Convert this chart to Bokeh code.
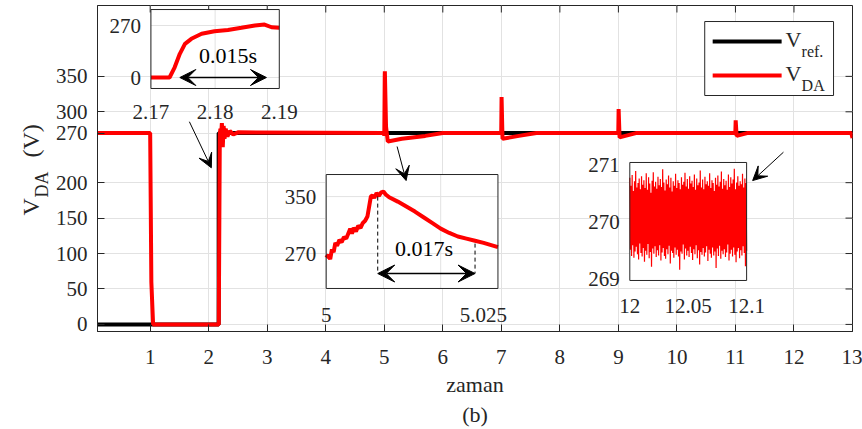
import math
from bokeh.plotting import figure
from bokeh.layouts import row
from bokeh.models import Range1d, FixedTicker, Arrow, VeeHead, Title
from bokeh.core.properties import value
from bokeh.embed import file_html
from bokeh.resources import INLINE

FONT = "Liberation Serif"
AX = "#262626"
GRID = "#e2e2e2"
RED = "#ff0000"

# ---- main traces -------------------------------------------------------
t_ref = [0.1, 2.17, 2.17, 13.0]
v_ref = [0, 0, 270, 270]

t_da = [0.1, 1.0, 1.02, 1.05, 2.17, 2.172, 2.19, 2.2, 2.21, 2.225, 2.24, 2.255,
        2.27, 2.29, 2.32, 2.36, 2.42, 2.5, 4.999, 5.0, 5.008, 5.01, 5.03, 5.06,
        5.3, 5.7, 6.0, 6.998, 7.004, 7.02, 7.3, 7.6, 8.998, 9.004, 9.02, 9.3,
        10.998, 11.004, 11.02, 11.2, 12.98, 13.0]
v_da = [270, 270, 60, 0, 0, 0, 268, 276, 262, 284, 250, 280,
        262, 276, 265, 273, 268, 271, 270, 266, 352, 357, 279, 258,
        262, 266, 270, 270, 321, 262, 266, 270, 270, 304, 264, 270,
        270, 288, 266, 270, 270, 263]

x_ticks = list(range(1, 14))
y_ticks = [0, 50, 100, 150, 200, 270, 300, 350]
X_RANGE = (0.1, 13.0)
Y_RANGE = (-10.0, 450.0)

# ---- zoom 1: start-up transient -----------------------------------------
z1_t = [2.1700, 2.1729, 2.1737, 2.1745, 2.1753, 2.1763, 2.1779, 2.1799, 2.1820,
        2.1841, 2.1862, 2.1877, 2.1888, 2.1900]
z1_v = [0, 0, 53, 123, 175, 201, 227, 240, 247, 258, 270, 275, 261, 258]
z1_xticks = [2.17, 2.18, 2.19]
z1_xlabels = ["2.17", "2.18", "2.19"]
z1_yticks = [0, 270]
z1_ylabels = ["0", "270"]

# ---- zoom 2: load step at t = 5 s ---------------------------------------
z2_t = [5.0000, 5.0004, 5.0007, 5.0010, 5.0013, 5.0016, 5.0019, 5.0023, 5.0027,
        5.0031, 5.0035, 5.0039, 5.0042, 5.0045, 5.0048, 5.0052, 5.0056, 5.0060,
        5.0064, 5.0068, 5.0072, 5.0075, 5.0078, 5.0081, 5.0084, 5.0088, 5.0092,
        5.0096, 5.0100, 5.0104, 5.0110, 5.0125, 5.0140, 5.0155, 5.0170, 5.0185,
        5.0200, 5.0215, 5.0230, 5.0245, 5.0260, 5.0275, 5.0300]
z2_v = [264, 268, 262, 276, 272, 285, 281, 289, 286,
        293, 291, 299, 305, 298, 306, 301, 309, 306,
        313, 316, 322, 336, 350, 352, 348, 355, 351,
        356, 357, 353, 349, 343, 336, 329, 321, 313,
        305, 299, 294, 291, 288, 285, 279]
z2_xticks = [5.0, 5.025]
z2_xlabels = ["5", "5.025"]
z2_yticks = [270, 350]
z2_ylabels = ["270", "350"]
z2_gridx = [5.01, 5.02]
z2_peak_t, z2_peak_v = 5.009, 350
z2_end_t, z2_end_v = 5.026, 284

# ---- zoom 3: steady-state ripple ----------------------------------------
z3_v = [
    270.78, 269.52, 270.64, 269.41, 270.83, 269.60, 270.55, 269.38, 270.72, 269.49,
    270.90, 269.57, 270.61, 269.44, 270.69, 269.35, 270.77, 269.63, 270.58, 269.46,
    270.81, 269.40, 270.66, 269.55, 270.74, 269.31, 270.60, 269.50, 270.86, 269.43,
    270.57, 269.62, 270.79, 269.37, 270.68, 269.48, 270.52, 269.22, 270.73, 269.54,
    270.88, 269.45, 270.63, 269.58, 270.71, 269.39, 270.59, 269.51, 270.80, 269.42,
    270.65, 269.60, 270.76, 269.33, 270.62, 269.47, 270.93, 269.55, 270.70, 269.41,
    270.56, 269.36, 270.75, 269.53, 270.67, 269.44, 270.82, 269.59, 270.61, 269.28,
    270.78, 269.50, 270.54, 269.46, 270.72, 269.38, 270.64, 269.56, 270.85, 269.43,
    270.60, 269.52, 270.74, 269.40, 270.69, 269.17, 270.58, 269.49, 270.79, 269.45,
    270.66, 269.61, 270.71, 269.35, 270.87, 269.54, 270.63, 269.42, 270.76, 269.50,
    270.59, 269.39, 270.81, 269.57, 270.68, 269.46, 270.73, 269.34, 270.62, 269.53,
    270.84, 269.44, 270.57, 269.60, 270.77, 269.37, 270.65, 269.51, 270.70, 269.26,
    270.91, 269.48, 270.61, 269.43, 270.75, 269.55, 270.58, 269.40, 270.80, 269.47,
    270.67, 269.58, 270.72, 269.32, 270.64, 269.52, 270.86, 269.45, 270.60, 269.38,
    270.74, 269.56, 270.69, 269.42, 270.55, 269.49, 270.78, 269.20, 270.66, 269.54,
    270.82, 269.41, 270.63, 269.59, 270.71, 269.36, 270.89, 269.50, 270.59, 269.44,
    270.76, 269.53, 270.65, 269.39, 270.73, 269.47, 270.57, 269.61, 270.84, 269.33,
    270.62, 269.45, 270.79, 269.52, 270.68, 269.40, 270.75, 269.56, 270.94, 269.43,
    270.58, 269.30, 270.70, 269.49, 270.81, 269.55, 270.64, 269.37, 270.72, 269.51,
    270.67, 269.42, 270.85, 269.58, 270.61, 269.46, 270.77, 269.23, 270.69, 269.50,
]
z3_t0, z3_t1 = 12.0, 12.1
z3_t = [z3_t0 + i * (z3_t1 - z3_t0) / (len(z3_v) - 1) for i in range(len(z3_v))]
z3_xticks = [12.0, 12.05, 12.1]
z3_xlabels = ["12", "12.05", "12.1"]
z3_yticks = [269, 270, 271]
z3_ylabels = ["269", "270", "271"]

legend_labels = [("V", "ref."), ("V", "DA")]

# ---- page geometry --------------------------------------------------------
W, H = 862, 429
LW = 52                       # strip on the left that carries the y title
ML, MR, MT, MB = 44, 10, 5, 98
FW, FH = W - LW - ML - MR, H - MT - MB

y_range = Range1d(*Y_RANGE)

# ---- y title strip: "V_DA (V)" written bottom-to-top, same vertical scale --
lab = figure(width=LW, height=H, x_range=Range1d(0, LW), y_range=y_range,
             output_backend="svg", toolbar_location=None, min_border_left=0,
             min_border_right=0, min_border_top=MT, min_border_bottom=MB,
             x_axis_location=None, y_axis_location=None)
lab.outline_line_color = None
lab.background_fill_color = "white"
lab.border_fill_color = "white"
lab.xgrid.visible = False
lab.ygrid.visible = False
for txt, bx, by, fs in (("V", 30, 153.7, "24px"), ("DA", 41, 179.1, "18px"),
                        ("(V)", 30, 235.5, "24px")):
    lab.text(x=[bx], y=[by], text=[txt], angle=math.pi / 2, text_font=value(FONT),
             text_font_size=fs, text_color=AX, text_align="left",
             text_baseline="alphabetic")

# ---- main figure ----------------------------------------------------------
p = figure(width=W - LW, height=H, x_range=Range1d(*X_RANGE),
           y_range=y_range, output_backend="svg", toolbar_location=None,
           min_border_left=ML, min_border_right=MR, min_border_top=MT,
           min_border_bottom=MB)
p.background_fill_color = "white"
p.border_fill_color = "white"
p.outline_line_color = AX
p.outline_line_width = 1

p.xaxis.ticker = FixedTicker(ticks=x_ticks)
p.yaxis.ticker = FixedTicker(ticks=y_ticks)
for ax in (p.xaxis[0], p.yaxis[0]):
    ax.axis_line_color = AX
    ax.major_tick_line_color = AX
    ax.major_tick_in = 7
    ax.major_tick_out = 0
    ax.minor_tick_line_color = None
    ax.major_label_text_font = FONT
    ax.major_label_text_font_size = "21px"
    ax.major_label_text_color = AX
p.xaxis.major_label_standoff = 18
p.yaxis.major_label_standoff = 10
p.xaxis.axis_label = "zaman"
p.xaxis.axis_label_text_font = FONT
p.xaxis.axis_label_text_font_size = "22px"
p.xaxis.axis_label_text_font_style = "normal"
p.xaxis.axis_label_text_color = AX
p.xaxis.axis_label_standoff = 5
p.add_layout(Title(text="(b)", align="center", vertical_align="middle",
                   text_font=FONT, text_font_size="22px", text_font_style="normal",
                   text_color=AX, standoff=2), "below")

p.xgrid.ticker = FixedTicker(ticks=x_ticks)
p.ygrid.ticker = FixedTicker(ticks=y_ticks)
p.grid.grid_line_color = GRID
p.grid.grid_line_width = 1

# inward ticks mirrored on the top and right edges of the box
tick_dy = 7 * (Y_RANGE[1] - Y_RANGE[0]) / FH
tick_dx = 7 * (X_RANGE[1] - X_RANGE[0]) / FW
p.segment(x0=x_ticks, x1=x_ticks, y0=[Y_RANGE[1]] * len(x_ticks),
          y1=[Y_RANGE[1] - tick_dy] * len(x_ticks), line_color=AX, line_width=1)
p.segment(x0=[X_RANGE[1]] * len(y_ticks), x1=[X_RANGE[1] - tick_dx] * len(y_ticks),
          y0=y_ticks, y1=y_ticks, line_color=AX, line_width=1)

ref_r = p.line(t_ref, v_ref, color="black", line_width=4)
da_r = p.line(t_da, v_da, color=RED, line_width=4)


def tlabel(sub, x, y, text, size="21px", **kw):
    sub.text(x=x, y=y, text=text, text_font=value(FONT), text_font_size=size,
             text_color=AX, **kw)


def inset(xs, ys, xt, yt, t, v, xticks, xlabels, yticks, ylabels,
          gridx=(), gridy=(), lw=4, dy=16):
    sub = p.subplot(x_source=Range1d(*xs), y_source=Range1d(*ys),
                    x_target=Range1d(*xt), y_target=Range1d(*yt))
    sub.quad(left=xs[0], right=xs[1], bottom=ys[0], top=ys[1],
             fill_color="white", line_color=None)
    if gridx:
        sub.segment(x0=list(gridx), x1=list(gridx), y0=[ys[0]] * len(gridx),
                    y1=[ys[1]] * len(gridx), line_color=GRID, line_width=1)
    if gridy:
        sub.segment(x0=[xs[0]] * len(gridy), x1=[xs[1]] * len(gridy), y0=list(gridy),
                    y1=list(gridy), line_color=GRID, line_width=1)
    sub.line(t, v, color=RED, line_width=lw)
    sub.quad(left=xs[0], right=xs[1], bottom=ys[0], top=ys[1],
             fill_color=None, line_color=AX, line_width=1)
    if xticks:
        tlabel(sub, xticks, [ys[0]] * len(xticks), xlabels,
               text_align="center", text_baseline="top", y_offset=dy)
    tlabel(sub, [xs[0]] * len(yticks), yticks, ylabels,
           text_align="right", text_baseline="middle", x_offset=-10)
    return sub


z1 = inset((2.17, 2.19), (-57, 353), (1.013, 3.206), (332.9, 444.3),
           z1_t, z1_v, z1_xticks, z1_xlabels, z1_yticks, z1_ylabels,
           gridx=[2.18], gridy=[0, 270], dy=17)
z2 = inset((5.0, 5.03), (221, 381), (4.0075, 6.942), (50.7, 211.5),
           z2_t, z2_v, [], [], z2_yticks, z2_ylabels,
           gridx=z2_gridx, gridy=z2_yticks)
tlabel(z2, [z2_xticks[0]], [221], [z2_xlabels[0]], text_align="center",
       text_baseline="top", y_offset=20)
tlabel(z2, [z2_xticks[1]], [221], [z2_xlabels[1]], text_align="center",
       text_baseline="top", y_offset=20, x_offset=14)
z3 = inset((z3_t0, z3_t1), (268.98, 271.05), (9.195, 11.191), (62.0, 228.5),
           z3_t, z3_v, z3_xticks, z3_xlabels, z3_yticks, z3_ylabels, lw=1.2, dy=19)

# duration markers inside the zooms
z1.text(x=[2.182], y=[114], text=["0.015s"], text_font=value(FONT),
        text_font_size="22px", text_color="black", text_align="center",
        text_baseline="middle")
p.add_layout(Arrow(start=VeeHead(size=16, fill_color="black", line_color="black"),
                   end=VeeHead(size=16, fill_color="black", line_color="black"),
                   x_start=2.1745, y_start=0, x_end=2.188, y_end=0,
                   line_width=1.5, coordinates=z1.coordinates))

z2.segment(x0=[z2_peak_t, z2_end_t], x1=[z2_peak_t, z2_end_t],
           y0=[z2_peak_v, z2_end_v], y1=[242, 242], line_color="black",
           line_width=1, line_dash="4 3")
z2.text(x=[5.0171], y=[277], text=["0.017s"], text_font=value(FONT),
        text_font_size="22px", text_color="black", text_align="center",
        text_baseline="middle")
p.add_layout(Arrow(start=VeeHead(size=17, fill_color="black", line_color="black"),
                   end=VeeHead(size=17, fill_color="black", line_color="black"),
                   x_start=z2_peak_t, y_start=242, x_end=z2_end_t, y_end=242,
                   line_width=1.5, coordinates=z2.coordinates))

# pointers from the traces to the zooms
for (xa, ya, xb, yb) in [(1.67, 286, 2.045, 221), (5.219, 251, 5.373, 203),
                         (11.82, 243, 11.294, 203)]:
    p.add_layout(Arrow(end=VeeHead(size=14, fill_color="black", line_color="black"),
                       x_start=xa, y_start=ya, x_end=xb, y_end=yb, line_width=1))

# legend box (upper right), drawn with glyphs so the labels can carry subscripts
lg_left, lg_right, lg_bottom, lg_top = 10.475, 12.676, 323.0, 427.4
lg_rows = [399.2, 351.2]
p.quad(left=lg_left, right=lg_right, bottom=lg_bottom, top=lg_top,
       fill_color="white", line_color=AX, line_width=1)
p.segment(x0=[10.611] * 2, x1=[11.789] * 2, y0=lg_rows, y1=lg_rows,
          line_color=["black", RED], line_width=4)
tlabel(p, [11.857] * 2, [r + 3 for r in lg_rows], [m for m, _ in legend_labels],
       size="22px", text_align="left", text_baseline="middle")
tlabel(p, [12.13] * 2, [r - 14 for r in lg_rows], [s for _, s in legend_labels],
       size="16px", text_align="left", text_baseline="middle")

layout = row(lab, p)
open("out.html", "w").write(file_html(layout, INLINE))
